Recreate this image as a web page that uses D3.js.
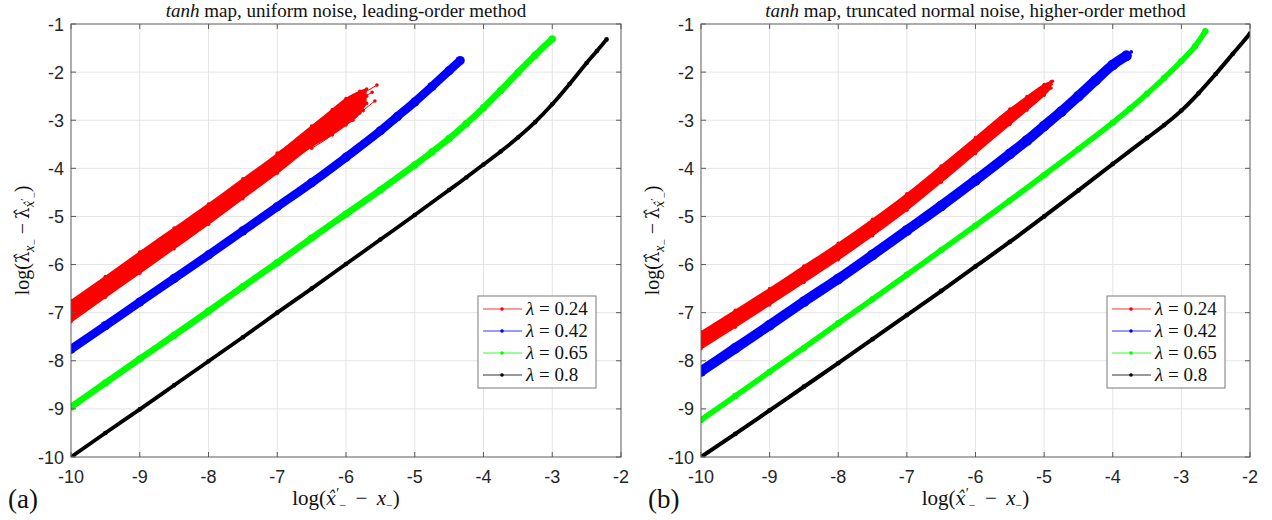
<!DOCTYPE html>
<html><head><meta charset="utf-8">
<script src="https://cdn.jsdelivr.net/npm/d3@7"></script>
<style>body{margin:0;background:#fff}</style>
</head><body>
<svg id="c" width="1272" height="520" xmlns="http://www.w3.org/2000/svg"></svg>
<script>
// ---------- shared ----------
const xTicks = [-10,-9,-8,-7,-6,-5,-4,-3,-2];
const yTicks = [-10,-9,-8,-7,-6,-5,-4,-3,-2,-1];
const lambdaLabels = ["0.24","0.42","0.65","0.8"];
const seriesColors = ["#ff0000","#0000ff","#00ff00","#000000"];
const panelLetters = ["(a)","(b)"];
const titleRest = [" map, uniform noise, leading-order method", " map, truncated normal noise, higher-order method"];

// ---------- panel (a) ----------
const aRedX  = [-10,-9.5,-9,-8.5,-8,-7.5,-7,-6.5,-6.2,-6.0,-5.8,-5.7];
const aRedHi = [-6.75,-6.25,-5.74,-5.24,-4.74,-4.22,-3.70,-3.12,-2.78,-2.55,-2.40,-2.35];
const aRedLo = [-7.19,-6.68,-6.18,-5.67,-5.16,-4.63,-4.10,-3.55,-3.30,-3.10,-2.85,-2.65];
const aRedMid = [-6.97,-6.46,-5.96,-5.45,-4.95,-4.42,-3.90,-3.33,-3.04,-2.82,-2.62,-2.50];
const aOut1X = [-7.0,-6.5,-6.2,-5.95,-5.75,-5.55];
const aOut1Y = [-3.68,-3.17,-2.87,-2.62,-2.44,-2.27];
const aOut2X = [-6.5,-6.2,-6.06,-5.9,-5.75,-5.58];
const aOut2Y = [-3.58,-3.30,-3.12,-3.00,-2.80,-2.60];
const aOut3X = [-6.3,-6.0,-5.85,-5.72,-5.62];
const aOut3Y = [-3.10,-2.78,-2.60,-2.50,-2.42];
const aBlueX = [-10,-9.5,-9,-8.5,-8,-7.5,-7,-6.5,-6,-5.5,-5.25,-5,-4.75,-4.5,-4.34];
const aBlueY = [-7.76,-7.27,-6.78,-6.29,-5.80,-5.30,-4.80,-4.30,-3.77,-3.22,-2.92,-2.62,-2.30,-1.97,-1.76];
const aGreenX = [-10,-9.5,-9,-8.5,-8,-7.5,-7,-6.5,-6,-5.5,-5,-4.75,-4.5,-4.25,-4,-3.75,-3.5,-3.25,-3];
const aGreenY = [-8.96,-8.46,-7.96,-7.47,-6.97,-6.46,-5.96,-5.45,-4.95,-4.45,-3.93,-3.66,-3.38,-3.07,-2.74,-2.38,-2.01,-1.65,-1.31];
const aBlackX = [-10,-9.5,-9,-8.5,-8,-7.5,-7,-6.5,-6,-5.5,-5,-4.5,-4.25,-4,-3.75,-3.5,-3.25,-3,-2.75,-2.5,-2.35,-2.21];
const aBlackY = [-10,-9.5,-9.01,-8.51,-8.01,-7.51,-7.0,-6.5,-5.99,-5.48,-4.97,-4.45,-4.19,-3.92,-3.65,-3.36,-3.04,-2.67,-2.25,-1.81,-1.56,-1.32];

// ---------- panel (b) ----------
const bRedX  = [-10,-9.5,-9,-8.5,-8,-7.5,-7,-6.5,-6,-5.5,-5.25,-5.0,-4.9];
const bRedHi = [-7.40,-6.95,-6.50,-6.03,-5.56,-5.06,-4.53,-3.95,-3.36,-2.77,-2.51,-2.26,-2.20];
const bRedLo = [-7.75,-7.30,-6.84,-6.37,-5.90,-5.40,-4.87,-4.29,-3.69,-3.09,-2.79,-2.48,-2.33];
const bRedMid = [-7.57,-7.12,-6.67,-6.20,-5.73,-5.23,-4.70,-4.12,-3.52,-2.92,-2.64,-2.36,-2.25];
const bOutRX = [-5.5,-5.2,-5.0,-4.88];
const bOutRY = [-2.85,-2.55,-2.32,-2.19];
const bBlueX = [-10,-9.5,-9,-8.5,-8,-7.5,-7,-6.5,-6,-5.5,-5.25,-5,-4.75,-4.5,-4.25,-4,-3.8];
const bBlueY = [-8.22,-7.74,-7.26,-6.77,-6.30,-5.80,-5.29,-4.78,-4.25,-3.70,-3.42,-3.12,-2.82,-2.50,-2.17,-1.85,-1.66];
const bOutBX = [-4.7,-4.4,-4.15,-3.95,-3.73];
const bOutBY = [-2.70,-2.32,-2.00,-1.75,-1.58];
const bGreenX = [-10,-9.5,-9,-8.5,-8,-7.5,-7,-6.5,-6,-5.5,-5,-4.5,-4,-3.75,-3.5,-3.25,-3,-2.8,-2.65];
const bGreenY = [-9.23,-8.73,-8.23,-7.73,-7.22,-6.72,-6.21,-5.70,-5.19,-4.67,-4.14,-3.60,-3.05,-2.76,-2.45,-2.12,-1.77,-1.46,-1.15];
const bBlackX = [-10,-9.5,-9,-8.5,-8,-7.5,-7,-6.5,-6,-5.5,-5,-4.5,-4,-3.5,-3.25,-3,-2.75,-2.5,-2.25,-2.0];
const bBlackY = [-10,-9.52,-9.03,-8.54,-8.05,-7.55,-7.05,-6.55,-6.04,-5.53,-5.0,-4.46,-3.91,-3.37,-3.10,-2.80,-2.44,-2.04,-1.62,-1.20];

const zip = (xs, ys) => xs.map((x,i)=>[x, ys[i]]);

const panels = [
  { left:71, right:621, top:24, bottom:457, legendX:478, letterX:8, ylabX:29,
    red:{x:aRedX, hi:aRedHi, lo:aRedLo, mid:aRedMid, outs:[zip(aOut1X,aOut1Y),zip(aOut2X,aOut2Y),zip(aOut3X,aOut3Y)]},
    blue:{pts:zip(aBlueX,aBlueY), w:8.5, outs:[]},
    green:{pts:zip(aGreenX,aGreenY), w:6.5},
    black:{pts:zip(aBlackX,aBlackY), w:3.8} },
  { left:701, right:1250, top:24, bottom:457, legendX:1107, letterX:648, ylabX:659,
    red:{x:bRedX, hi:bRedHi, lo:bRedLo, mid:bRedMid, outs:[zip(bOutRX,bOutRY)]},
    blue:{pts:zip(bBlueX,bBlueY), w:10, outs:[zip(bOutBX,bOutBY)]},
    green:{pts:zip(bGreenX,bGreenY), w:5.5},
    black:{pts:zip(bBlackX,bBlackY), w:4} }
];

const svg = d3.select("#c");
const serif = "'Liberation Serif','Times New Roman',serif";
const dvs = "'DejaVu Serif',serif";
const sans = "'Liberation Sans',Arial,sans-serif";

function mathText(sel, parts, base){
  let prevB = 0;
  parts.forEach(p=>{
    const t = sel.append("tspan").text(p.t).attr("font-size", p.s || base);
    const b = p.b || 0;
    if (b !== prevB) t.attr("dy", b - prevB);
    if (p.dx) t.attr("dx", p.dx);
    if (p.i) t.attr("font-style","italic");
    if (p.f) t.attr("font-family", p.f);
    prevB = b;
  });
}

panels.forEach((P, pi) => {
  const x = d3.scaleLinear().domain([-10,-2]).range([P.left, P.right]);
  const y = d3.scaleLinear().domain([-10,-1]).range([P.bottom, P.top]);
  const g = svg.append("g");
  const clipId = "clip"+pi;
  svg.append("clipPath").attr("id", clipId).append("rect")
    .attr("x", P.left).attr("y", P.top).attr("width", P.right-P.left).attr("height", P.bottom-P.top);

  // grid
  g.append("g").selectAll("line").data(xTicks.slice(1,-1)).join("line")
    .attr("x1", d=>x(d)).attr("x2", d=>x(d)).attr("y1", P.top).attr("y2", P.bottom)
    .attr("stroke","#e4e4e4").attr("stroke-width",1);
  g.append("g").selectAll("line").data(yTicks.slice(1,-1)).join("line")
    .attr("y1", d=>y(d)).attr("y2", d=>y(d)).attr("x1", P.left).attr("x2", P.right)
    .attr("stroke","#e4e4e4").attr("stroke-width",1);

  const plot = g.append("g").attr("clip-path", `url(#${clipId})`);
  const line = d3.line().x(d=>x(d[0])).y(d=>y(d[1])).curve(d3.curveMonotoneX);
  const dots = (pts, color, r) => plot.append("g").selectAll("circle").data(pts).join("circle")
      .attr("cx", d=>x(d[0])).attr("cy", d=>y(d[1])).attr("r", r).attr("fill", color);

  // red band
  const R = P.red;
  const area = d3.area().x((d,i)=>x(R.x[i])).y0((d,i)=>y(R.lo[i])).y1((d,i)=>y(R.hi[i])).curve(d3.curveMonotoneX);
  plot.append("path").datum(R.x).attr("d", area).attr("fill", seriesColors[0]);
  [zip(R.x,R.hi), zip(R.x,R.lo), zip(R.x,R.mid)].forEach(pts=>{
    plot.append("path").datum(pts).attr("d", line).attr("fill","none").attr("stroke",seriesColors[0]).attr("stroke-width",1.5);
    dots(pts, seriesColors[0], 1.8);
  });
  R.outs.forEach(pts=>{
    plot.append("path").datum(pts).attr("d", line).attr("fill","none").attr("stroke",seriesColors[0]).attr("stroke-width",1);
    dots(pts, seriesColors[0], 1.8);
  });

  // blue, green, black
  [[P.blue,1],[P.green,2],[P.black,3]].forEach(([S,ci])=>{
    const c = seriesColors[ci];
    plot.append("path").datum(S.pts).attr("d", line).attr("fill","none")
      .attr("stroke", c).attr("stroke-width", S.w).attr("stroke-linejoin","round");
    dots(S.pts, c, Math.max(1.8, S.w/2 + 0.4));
    (S.outs||[]).forEach(pts=>{
      plot.append("path").datum(pts).attr("d", line).attr("fill","none").attr("stroke",c).attr("stroke-width",1);
      dots(pts, c, 1.8);
    });
  });

  // box + ticks
  const axc = "#5a5a5a";
  g.append("rect").attr("x",P.left).attr("y",P.top).attr("width",P.right-P.left).attr("height",P.bottom-P.top)
    .attr("fill","none").attr("stroke",axc).attr("stroke-width",1);
  const tl = 5;
  xTicks.forEach(t=>{
    g.append("line").attr("x1",x(t)).attr("x2",x(t)).attr("y1",P.bottom).attr("y2",P.bottom-tl).attr("stroke",axc);
    g.append("line").attr("x1",x(t)).attr("x2",x(t)).attr("y1",P.top).attr("y2",P.top+tl).attr("stroke",axc);
    g.append("text").attr("x",x(t)).attr("y",P.bottom+26).attr("text-anchor","middle")
      .attr("font-family",sans).attr("font-size",18).attr("fill","#262626").text(t);
  });
  yTicks.forEach(t=>{
    g.append("line").attr("x1",P.left).attr("x2",P.left+tl).attr("y1",y(t)).attr("y2",y(t)).attr("stroke",axc);
    g.append("line").attr("x1",P.right).attr("x2",P.right-tl).attr("y1",y(t)).attr("y2",y(t)).attr("stroke",axc);
    g.append("text").attr("x",P.left-7).attr("y",y(t)+6.5).attr("text-anchor","end")
      .attr("font-family",sans).attr("font-size",18).attr("fill","#262626").text(t);
  });

  // title
  const tt = g.append("text").attr("x",(P.left+P.right)/2).attr("y",17).attr("text-anchor","middle")
    .attr("font-family",serif).attr("font-size",19).attr("fill","#111");
  tt.append("tspan").attr("font-style","italic").text("tanh");
  tt.append("tspan").text(titleRest[pi]);

  // x label
  const xl = g.append("text").attr("x",(P.left+P.right)/2).attr("y",505).attr("text-anchor","middle")
    .attr("font-family",serif).attr("fill","#111");
  mathText(xl, [
    {t:"log("}, {t:"x\u0302", i:true, f:dvs, s:18}, {t:"′", s:14, b:-7},
    {t:"−", s:12, b:4},
    {t:" \u2009−\u2009 ", b:0}, {t:"x", i:true}, {t:"−", s:12, b:4}, {t:")", b:0}
  ], 21);

  // y label
  const yc = (P.top+P.bottom)/2;
  const yl = g.append("text").attr("transform",`translate(${P.ylabX},${yc}) rotate(-90)`)
    .attr("text-anchor","middle").attr("font-family",serif).attr("fill","#111");
  mathText(yl, [
    {t:"log("}, {t:"λ\u0302", f:dvs, s:18},
    {t:"x", s:14, b:5, i:true}, {t:"−", s:11, b:9},
    {t:" −\u2009", b:0}, {t:"λ\u0302", f:dvs, s:18},
    {t:"x\u0302", s:12, b:5, i:true, f:dvs}, {t:"′", s:10, b:-1},
    {t:"−", s:11, b:9},
    {t:")", b:0}
  ], 20);

  // panel letter
  g.append("text").attr("x",P.letterX).attr("y",508).attr("font-family",serif).attr("font-size",27)
    .attr("fill","#111").text(panelLetters[pi]);

  // legend
  const lx = P.legendX, ly = 296;
  g.append("rect").attr("x",lx).attr("y",ly).attr("width",118).attr("height",92)
    .attr("fill","#fff").attr("stroke","#7a7a7a").attr("stroke-width",1);
  lambdaLabels.forEach((lab,i)=>{
    const cy = ly + 13 + i*22;
    g.append("line").attr("x1",lx+5).attr("x2",lx+44).attr("y1",cy).attr("y2",cy)
      .attr("stroke",seriesColors[i]).attr("stroke-width",1).attr("stroke-opacity",0.8);
    g.append("circle").attr("cx",lx+24).attr("cy",cy).attr("r",1.8).attr("fill",seriesColors[i]);
    const tx = g.append("text").attr("x",lx+48).attr("y",cy+6).attr("font-family",serif)
      .attr("font-size",19).attr("fill","#111");
    tx.append("tspan").attr("font-style","italic").text("λ");
    tx.append("tspan").text(" = " + lab);
  });
});
</script>
</body></html>
